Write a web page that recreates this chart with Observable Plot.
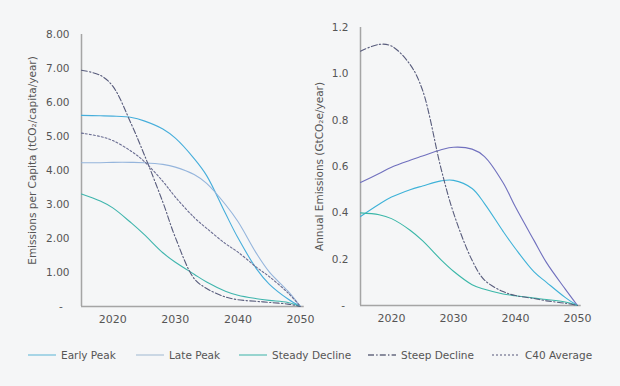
<!DOCTYPE html>
<html><head><meta charset="utf-8">
<script src="https://cdn.jsdelivr.net/npm/d3@7"></script>
<script src="https://cdn.jsdelivr.net/npm/@observablehq/plot@0.6"></script>
<style>
html,body{margin:0;padding:0;background:#f5f6f7;}
#wrap{position:relative;width:620px;height:386px;background:#f5f6f7;font-family:"DejaVu Sans",sans-serif;overflow:hidden}
#left,#right{position:absolute;top:0}
#left{left:0}
#right{left:310px}
#legend{position:absolute;top:347px;left:0;width:620px;height:16px;font-size:10.5px;color:#555}
.item{position:absolute;top:0;height:16px;display:flex;align-items:center;white-space:nowrap}
.item svg{margin-right:5px}
</style></head><body>
<div id="wrap"><div id="left"></div><div id="right"></div><div id="legend"></div></div>
<script>
// ---------- data ----------
const years = [2015, 2018, 2020, 2023, 2025, 2028, 2030, 2033, 2035, 2038, 2040, 2043, 2045, 2048, 2050];
const seriesNames = ["Early Peak", "Late Peak", "Steady Decline", "Steep Decline", "C40 Average"];

// Left: emissions per capita (tCO2/capita/year)
const perCapitaEarlyPeak     = [5.62, 5.61, 5.60, 5.56, 5.46, 5.22, 4.95, 4.35, 3.85, 2.74, 2.02, 1.10, 0.66, 0.22, 0];
const perCapitaLatePeak      = [4.23, 4.23, 4.24, 4.24, 4.23, 4.18, 4.10, 3.88, 3.62, 3.00, 2.50, 1.55, 1.02, 0.45, 0];
const perCapitaSteadyDecline = [3.31, 3.10, 2.90, 2.45, 2.12, 1.58, 1.30, 0.95, 0.72, 0.45, 0.33, 0.23, 0.18, 0.12, 0];
const perCapitaSteepDecline  = [6.95, 6.80, 6.48, 5.35, 4.48, 3.07, 2.03, 0.82, 0.53, 0.28, 0.20, 0.15, 0.12, 0.07, 0];
const perCapitaC40Average    = [5.10, 5.00, 4.88, 4.56, 4.27, 3.68, 3.22, 2.62, 2.30, 1.85, 1.60, 1.15, 0.88, 0.40, 0];

// Right: annual emissions (GtCO2e/year)
const annualEarlyPeak     = [0.384, 0.437, 0.468, 0.500, 0.516, 0.538, 0.540, 0.505, 0.440, 0.320, 0.245, 0.145, 0.100, 0.035, 0];
const annualLatePeak      = [0.531, 0.570, 0.597, 0.627, 0.645, 0.672, 0.683, 0.675, 0.643, 0.530, 0.425, 0.280, 0.185, 0.072, 0];
const annualSteadyDecline = [0.400, 0.392, 0.375, 0.325, 0.280, 0.197, 0.148, 0.090, 0.070, 0.050, 0.042, 0.032, 0.026, 0.015, 0];
const annualSteepDecline  = [1.098, 1.127, 1.120, 1.040, 0.930, 0.590, 0.400, 0.195, 0.110, 0.060, 0.043, 0.030, 0.020, 0.010, 0];

const xTicks = [2020, 2030, 2040, 2050];
const yTicksLeft = [0, 1, 2, 3, 4, 5, 6, 7, 8];
const yTicksRight = [0, 0.2, 0.4, 0.6, 0.8, 1.0, 1.2];
const yLabelLeft = "Emissions per Capita (tCO\u2082/capita/year)";
const yLabelRight = "Annual Emissions (GtCO\u2082e/year)";

// ---------- styles ----------
const dashes = {"Early Peak": null, "Late Peak": null, "Steady Decline": null, "Steep Decline": "6,2.2,1.4,2.2", "C40 Average": "2,2"};
const colorsLeft = {"Early Peak": "#46aedb", "Late Peak": "#95b5dc", "Steady Decline": "#3fb5ad", "Steep Decline": "#585c7c", "C40 Average": "#6a6d92"};
const colorsRight = {"Early Peak": "#3eb2d8", "Late Peak": "#7070be", "Steady Decline": "#3ab7a8", "Steep Decline": "#585c7c"};
const colorsLegend = {"Early Peak": "#7cc3dd", "Late Peak": "#b2c6da", "Steady Decline": "#64c1ba", "Steep Decline": "#666a80", "C40 Average": "#8a8ca4"};

function tidy(map) {
  const rows = [];
  for (const [name, arr] of Object.entries(map)) years.forEach((yr, i) => rows.push({series: name, year: yr, value: arr[i]}));
  return rows;
}
const leftData = tidy({"Early Peak": perCapitaEarlyPeak, "Late Peak": perCapitaLatePeak, "Steady Decline": perCapitaSteadyDecline, "Steep Decline": perCapitaSteepDecline, "C40 Average": perCapitaC40Average});
const rightData = tidy({"Early Peak": annualEarlyPeak, "Late Peak": annualLatePeak, "Steady Decline": annualSteadyDecline, "Steep Decline": annualSteepDecline});

function chart(data, colors, o) {
  const marks = [
    Plot.ruleX([2015], {stroke: "#a5a5a5", strokeWidth: 1.5}),
    Plot.ruleY([0], {x1: 2015, x2: 2050.6, stroke: "#a5a5a5", strokeWidth: 1.5})
  ];
  for (const name of Object.keys(colors)) {
    marks.push(Plot.line(data.filter(d => d.series === name), {
      x: "year", y: "value", stroke: colors[name], strokeWidth: 1.1,
      strokeDasharray: dashes[name], curve: "catmull-rom"
    }));
  }
  marks.push(Plot.axisX(xTicks, {tickSize: 0, tickPadding: 9, tickFormat: d => String(d), color: "#555", fontSize: 11, label: null}));
  marks.push(Plot.axisY(o.yTicks, {tickSize: 0, tickPadding: 12, tickFormat: o.fmt, color: "#555", fontSize: 10.5, label: null}));
  marks.push(Plot.text([o.label], {frameAnchor: "left", textAnchor: "middle", rotate: -90, dx: o.ldx, dy: o.ldy, text: d => d, fill: "#555", fontSize: 10.5}));
  return Plot.plot({
    width: 310, height: 330,
    marginLeft: o.ml, marginRight: o.mr, marginTop: o.mt, marginBottom: o.mb,
    x: {domain: [2015, 2050]},
    y: {domain: o.yDomain},
    style: {fontFamily: "DejaVu Sans, sans-serif", background: "transparent", overflow: "visible", color: "#555"},
    marks
  });
}

document.getElementById("left").append(chart(leftData, colorsLeft, {
  ml: 81, mr: 10, mt: 34, mb: 24, yDomain: [0, 8], yTicks: yTicksLeft,
  fmt: d => d === 0 ? "-\u00a0\u00a0" : d.toFixed(2), label: yLabelLeft, ldx: -49, ldy: -10
}));
document.getElementById("right").append(chart(rightData, colorsRight, {
  ml: 50, mr: 43, mt: 27, mb: 25, yDomain: [0, 1.2], yTicks: yTicksRight,
  fmt: d => d === 0 ? "-\u00a0" : d.toFixed(1), label: yLabelRight, ldx: -41, ldy: 0
}));

// ---------- legend ----------
const legendX = [28, 136, 239, 368, 492];
const legend = document.getElementById("legend");
seriesNames.forEach((name, i) => {
  const item = document.createElement("div");
  item.className = "item";
  item.style.left = legendX[i] + "px";
  const d = dashes[name] ? ` stroke-dasharray="${dashes[name]}"` : "";
  item.innerHTML = `<svg width="28" height="4"><line x1="0" x2="28" y1="2" y2="2" stroke="${colorsLegend[name]}" stroke-width="1.3"${d}/></svg><span>${name}</span>`;
  legend.append(item);
});
</script>
</body></html>
